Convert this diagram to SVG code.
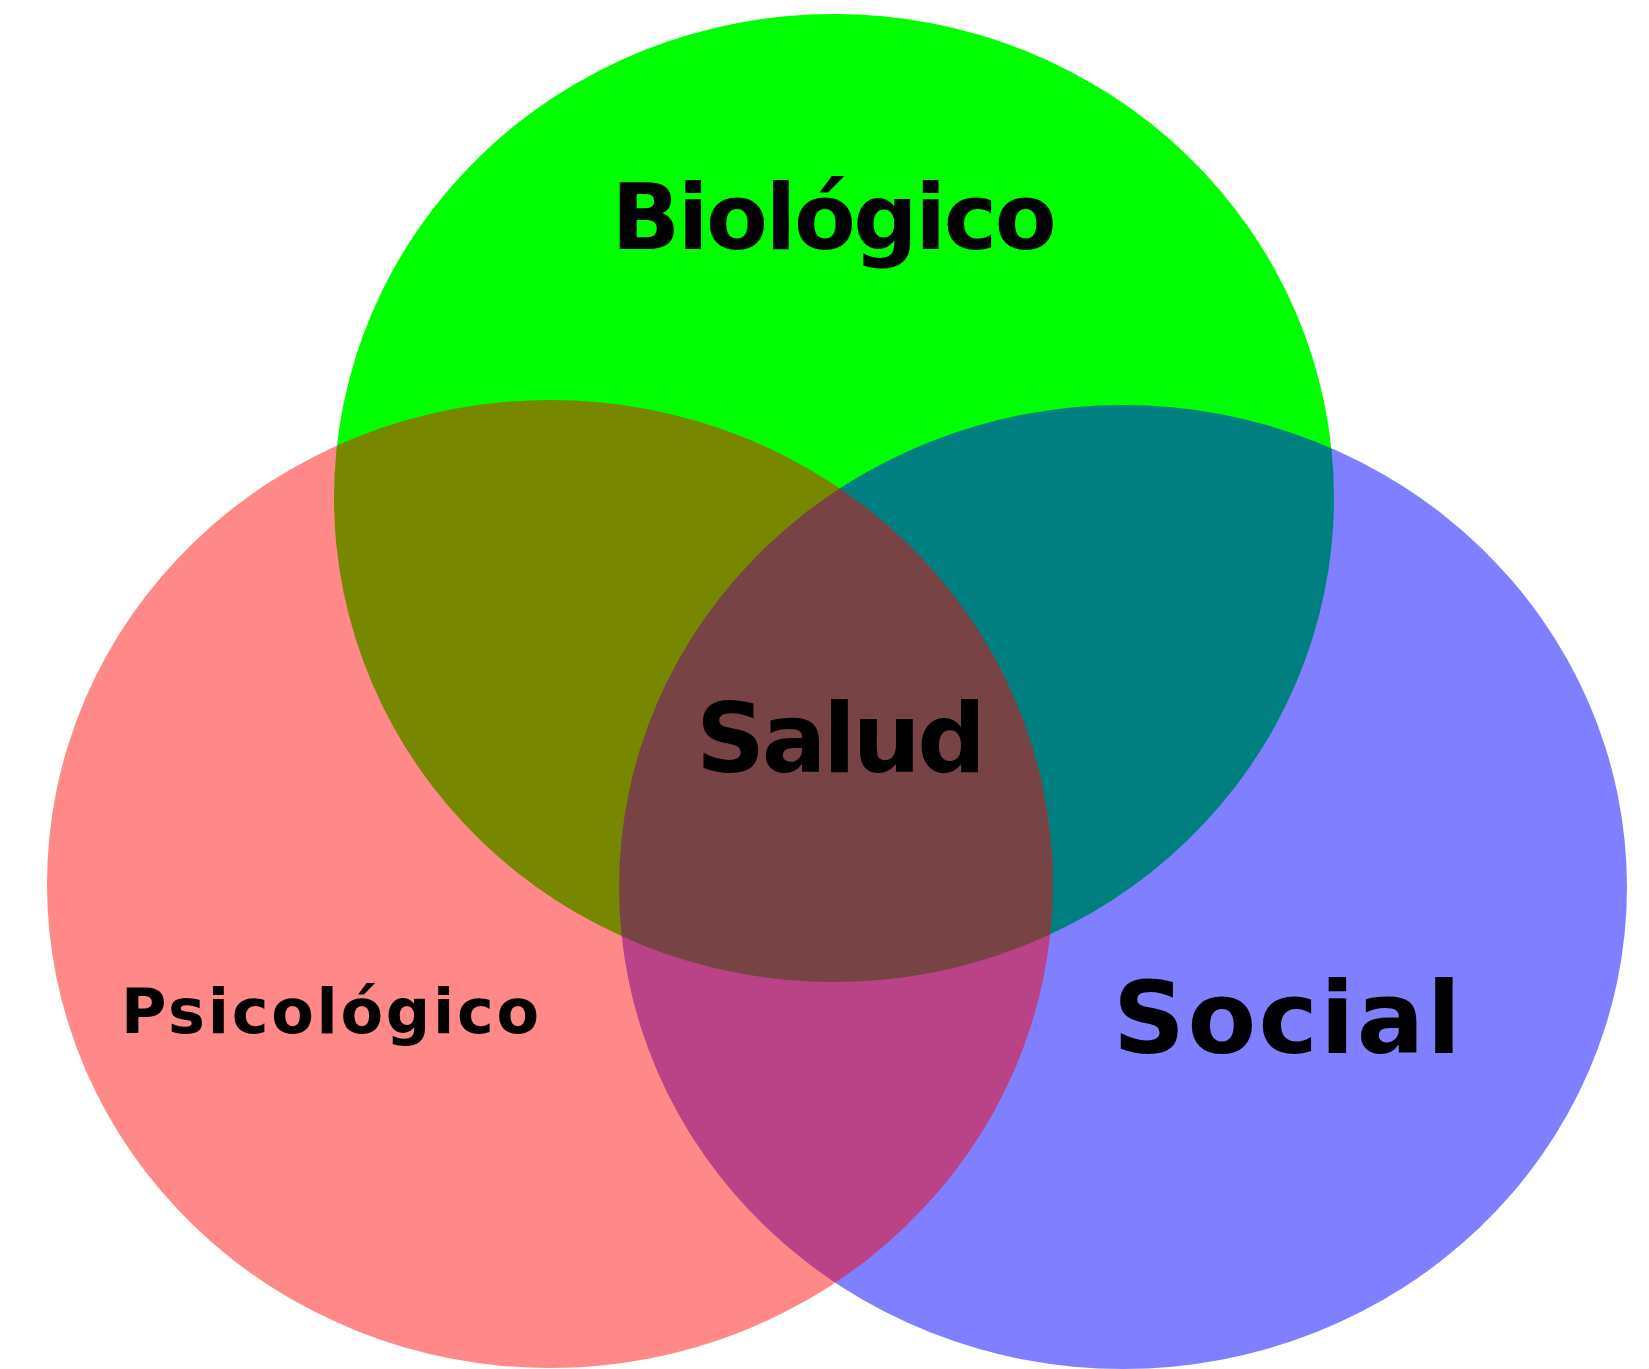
<svg xmlns="http://www.w3.org/2000/svg" width="1649" height="1369" viewBox="0 0 1649 1369">
<style>
.lbl{font-family:"DejaVu Sans","Liberation Sans",sans-serif;font-weight:bold;fill:#000;text-anchor:middle}
</style>
<rect x="0" y="0" width="1649" height="1369" fill="#ffffff"/>
<g id="biologico">
<ellipse cx="834" cy="498" rx="500" ry="484" fill="#00ff00"/>
</g>
<g id="social">
<ellipse cx="1123" cy="887" rx="504" ry="482" fill="#0000ff" fill-opacity="0.5"/>
</g>
<g id="psicologico">
<ellipse cx="550" cy="884" rx="503" ry="484" fill="#ff0000" fill-opacity="0.467"/>
</g>
<g id="labels">
<text class="lbl" x="834" y="249" font-size="90" textLength="445" lengthAdjust="spacing">Biológico</text>
<text class="lbl" x="841" y="772" font-size="96" textLength="290" lengthAdjust="spacing">Salud</text>
<text class="lbl" x="330" y="1033" font-size="62" textLength="418" lengthAdjust="spacing">Psicológico</text>
<text class="lbl" x="1287" y="1053" font-size="100" textLength="348" lengthAdjust="spacing">Social</text>
</g>
</svg>
